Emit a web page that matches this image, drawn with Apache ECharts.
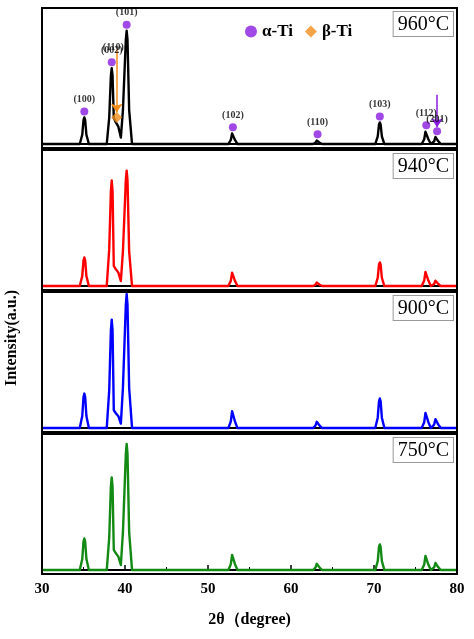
<!DOCTYPE html>
<html><head><meta charset="utf-8">
<script src="https://cdn.jsdelivr.net/npm/echarts@6/dist/echarts.min.js"></script>
<style>html,body{margin:0;padding:0;background:#fff}#c{width:474px;height:639px}</style>
</head><body><div id="c"></div>
<script>
const temps = ['960°C','940°C','900°C','750°C'];
const colors = ['#000000','#ff0000','#0000ff','#138a13'];
const peakPos = [35.1, 38.4, 38.9, 40.2, 53.0, 63.2, 70.7, 76.3, 77.5];
const heights960 = [27, 77, 22, 115, 12, 4, 22, 14, 8];
const heights940 = [29, 107, 17, 117, 15, 4, 24, 16, 6];
const heights900 = [35, 110, 15, 136, 19, 7, 30, 17, 10];
const heights750 = [32, 94, 17, 128, 17, 7, 26, 16, 8];
const alphaLabels = ['(100)','(002)','(101)','(102)','(110)','(103)','(112)','(201)'];
const alphaPos = [35.1, 38.4, 40.2, 53.0, 63.2, 70.7, 76.3, 77.6];
const alphaY = [33, 83, 121, 17, 10, 28, 19, 13];
const betaPoint = [39.0, 27];
const allHeights = [heights960, heights940, heights900, heights750];

function peak(d,p,h){ d.push([p-0.55,0],[p-0.25,h*0.35],[p-0.1,h*0.9],[p,h],[p+0.1,h*0.9],[p+0.25,h*0.35],[p+0.55,0]); }
function buildLine(h){
  const d=[[30,0]];
  peak(d,peakPos[0],h[0]);
  const a=h[1], s=h[2], b=h[3];
  d.push([37.8,0],[38.1,a*0.35],[38.3,a*0.9],[38.4,a],[38.5,a*0.9],[38.65,s*1.2],[38.9,s],[39.2,s*0.8],
    [39.5,s*0.3],[39.75,b*0.3],[40.1,b*0.92],[40.2,b],[40.3,b*0.92],[40.5,b*0.3],[40.85,0]);
  for(let i=4;i<peakPos.length;i++) peak(d,peakPos[i],h[i]);
  d.push([80,0]);
  return d;
}
const tops=[8,150,292,434], H=140;
const font='"Liberation Serif", serif';
const grids=[],xAxes=[],yAxes=[],series=[],graphics=[];
temps.forEach((t,i)=>{
  grids.push({left:42,right:17,top:tops[i],height:H,show:true,borderColor:'#000',borderWidth:2,z:5});
  xAxes.push({gridIndex:i,type:'value',min:30,max:80,interval:10,
    axisLine:{show:true,lineStyle:{color:'#000',width:2}},
    axisTick:{show:i===3,inside:true,length:5,lineStyle:{color:'#000',width:1.5}},
    minorTick:{show:i===3,splitNumber:2,length:3},
    splitLine:{show:false},
    axisLabel:{show:i===3,color:'#000',fontFamily:font,fontWeight:'bold',fontSize:15,margin:8},
    name:i===3?'2θ（degree)':'',nameLocation:'middle',nameGap:38,
    nameTextStyle:{color:'#000',fontFamily:font,fontWeight:'bold',fontSize:16}});
  yAxes.push({gridIndex:i,type:'value',min:-4,max:138,show:false});
  series.push({type:'line',xAxisIndex:i,yAxisIndex:i,data:buildLine(allHeights[i]),
    smooth:false,symbol:'none',lineStyle:{color:colors[i],width:2.4,join:'round'},z:3});
  graphics.push({type:'text',right:20,top:tops[i]+3,z:10,
    style:{text:t,font:'20px '+font,fill:'#000',backgroundColor:'#fff',
      borderColor:'#999',borderWidth:1,padding:[3,4,1,4]}});
});
series.push({type:'scatter',name:'α-Ti',xAxisIndex:0,yAxisIndex:0,symbol:'circle',symbolSize:8,
  itemStyle:{color:'#8a1be0'},
  data:alphaPos.map((x,k)=>({value:[x,alphaY[k]],
    label:{show:true,formatter:alphaLabels[k],position:'top',distance:3,
      color:'#000',fontFamily:font,fontWeight:'bold',fontSize:10}})),z:6,
  markLine:{silent:true,symbol:['none','arrow'],symbolSize:9,label:{show:false},
    lineStyle:{color:'#8a1be0',width:1.5,type:'solid'},
    data:[[{coord:[77.6,50]},{coord:[77.6,17]}]]}});
series.push({type:'scatter',name:'β-Ti',xAxisIndex:0,yAxisIndex:0,symbol:'diamond',symbolSize:11,
  itemStyle:{color:'#f28c1a'},data:[betaPoint],z:6,
  markLine:{silent:true,symbol:['none','arrow'],symbolSize:9,label:{show:false},
    lineStyle:{color:'#f28c1a',width:1.5,type:'solid'},
    data:[[{coord:[39.0,96]},{coord:[39.0,32]}]]}});
series.push({type:'scatter',xAxisIndex:0,yAxisIndex:0,symbolSize:0,data:[[38.6,98]],z:6,
  label:{show:true,formatter:'(110)',position:'inside',color:'#000',fontFamily:font,fontWeight:'bold',fontSize:10}});
graphics.push({type:'text',left:4,top:290,rotation:Math.PI/2,z:10,
  style:{text:'Intensity(a.u.)',font:'bold 16px '+font,fill:'#000',align:'center',verticalAlign:'middle'}});
const chart=echarts.init(document.getElementById('c'));
chart.setOption({animation:false,grid:grids,xAxis:xAxes,yAxis:yAxes,series:series,graphic:graphics,
  legend:{data:['α-Ti','β-Ti'],left:240,top:18,itemGap:12,itemWidth:12,itemHeight:12,
    textStyle:{color:'#000',fontFamily:font,fontWeight:'bold',fontSize:17}}});
</script></body></html>
